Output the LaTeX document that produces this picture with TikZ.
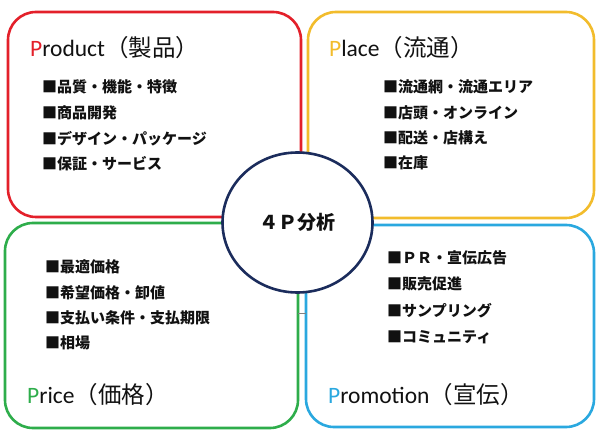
\documentclass[tikz,border=0pt]{standalone}
\usepackage{fontspec}
\setmainfont{Carlito}
\newfontfamily\jp{Noto Sans CJK JP}
\usetikzlibrary{shapes.geometric}
\pgfdeclarelayer{background}
\pgfdeclarelayer{foreground}
\pgfsetlayers{background,main,foreground}
\definecolor{redP}{HTML}{E3202A}
\definecolor{goldP}{HTML}{F2BC2C}
\definecolor{greenP}{HTML}{2EAD4B}
\definecolor{blueP}{HTML}{2AA8DF}
\definecolor{navyP}{HTML}{1B2C5C}
\definecolor{inkP}{HTML}{111111}
\tikzset{
  quad/.style={draw=#1, rounded corners=28pt, line width=2.6pt, inner sep=0pt},
  title/.style={anchor=west, inner sep=0pt, text=inkP, font=\fontsize{23.5}{28}\selectfont},
  item/.style={anchor=west, inner sep=0pt, text=inkP, font=\jp\bfseries\fontsize{15}{18}\selectfont}
}
\begin{document}
\begin{tikzpicture}[x=1pt,y=-1pt]
\useasboundingbox (0,0) rectangle (600,430);
\begin{pgfonlayer}{background}
\node[quad=redP, minimum width=293pt, minimum height=205pt] (prod) at (154.5,114.5) {};
\node[quad=goldP, minimum width=286pt, minimum height=206pt] (place) at (451,115) {};
\node[quad=greenP, minimum width=293pt, minimum height=205pt] (price) at (151.5,325.5) {};
\node[quad=blueP, minimum width=288pt, minimum height=202pt] (promo) at (450,326) {};
\draw[gray, line width=0.8pt] (298,313) -- (306,313);
\end{pgfonlayer}
\begin{pgfonlayer}{foreground}
\node[ellipse, draw=navyP, fill=white, line width=2.6pt, minimum width=150pt, minimum height=140pt,
  font=\jp\bfseries\fontsize{19}{22}\selectfont, text=inkP] (c4p) at (297.5,222.5) {４Ｐ分析};
\end{pgfonlayer}
% titles
\node[title] (tprod) at (30,48) {{\color{redP}P}roduct{\jp（製品）}};
\node[title] (tplace) at (329,48) {{\color{goldP}P}lace{\jp（流通）}};
\node[title] (tprice) at (27,395) {{\color{greenP}P}rice{\jp（価格）}};
\node[title] (tpromo) at (328,395) {{\color{blueP}P}romotion{\jp（宣伝）}};
% items
\foreach \t [count=\i from 0] in {品質・機能・特徴,商品開発,デザイン・パッケージ,保証・サービス}
  \node[item] (prod\i) at (42,87+25.7*\i) {■\t};
\foreach \t [count=\i from 0] in {流通網・流通エリア,店頭・オンライン,配送・店構え,在庫}
  \node[item] (place\i) at (383,87+25.4*\i) {■\t};
\foreach \t [count=\i from 0] in {最適価格,希望価格・卸値,支払い条件・支払期限,相場}
  \node[item] (price\i) at (45,267+25.4*\i) {■\t};
\foreach \t [count=\i from 0] in {ＰＲ・宣伝広告,販売促進,サンプリング,コミュニティ}
  \node[item] (promo\i) at (387,258+26.3*\i) {■\t};
\end{tikzpicture}
\end{document}
